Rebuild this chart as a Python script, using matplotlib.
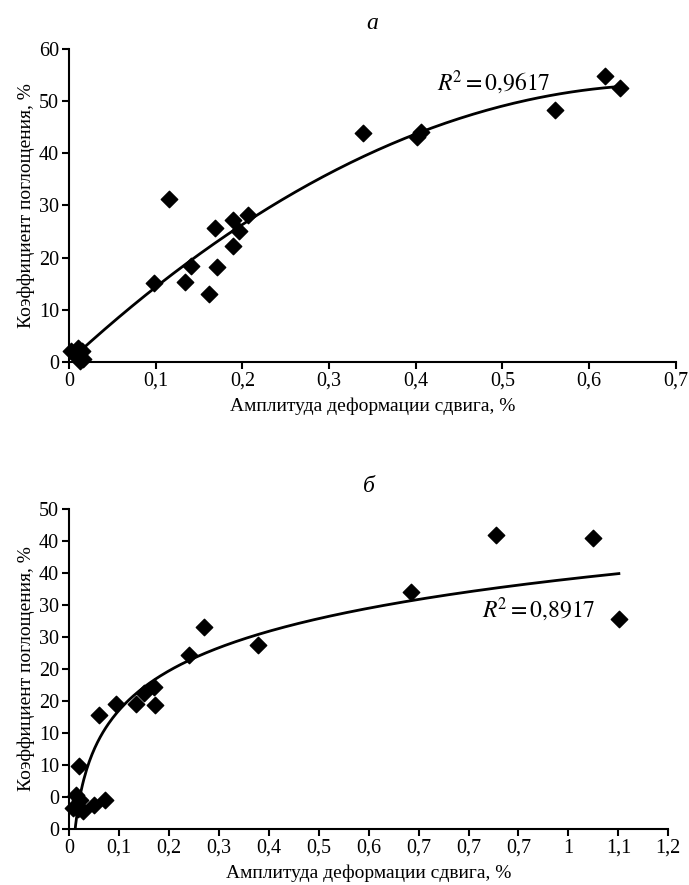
import numpy as np
import matplotlib
matplotlib.use("Agg")
import matplotlib.pyplot as plt

plt.rcParams['font.family'] = ['Liberation Serif', 'DejaVu Serif']

# panel a
xa = [0.0025, 0.010, 0.015, 0.011, 0.016, 0.013, 0.0985, 0.116, 0.134, 0.141,
      0.162, 0.169, 0.171, 0.189, 0.189, 0.196, 0.206, 0.339, 0.402, 0.406,
      0.561, 0.618, 0.636]
ya = [2.1, 2.7, 2.1, 0.8, 0.6, 0.1, 15.2, 31.2, 15.4, 18.4,
      13.1, 25.6, 18.1, 27.1, 22.2, 25.0, 28.2, 43.8, 43.1, 44.0,
      48.2, 54.7, 52.5]
xa_ticks = [0, 0.1, 0.2, 0.3, 0.4, 0.5, 0.6, 0.7]
xa_labels = ['0', '0,1', '0,2', '0,3', '0,4', '0,5', '0,6', '0,7']
ya_ticks = [0, 10, 20, 30, 40, 50, 60]
ya_labels = ['0', '10', '20', '30', '40', '50', '60']

# panel b
xb = [0.855, 1.050, 0.685, 1.101, 0.270, 0.379, 0.240, 0.171, 0.151, 0.135,
      0.172, 0.094, 0.060, 0.021, 0.014, 0.023, 0.072, 0.051, 0.009, 0.018,
      0.029]
yb = [45.9, 45.5, 37.1, 32.8, 31.5, 28.8, 27.2, 22.2, 21.3, 19.6,
      19.4, 19.6, 17.9, 9.8, 5.3, 4.6, 4.5, 3.8, 3.3, 3.1,
      2.9]
xb_ticks = [0, 0.1, 0.2, 0.3, 0.4, 0.5, 0.6, 0.7, 0.8, 0.9, 1.0, 1.1, 1.2]
xb_labels = ['0', '0,1', '0,2', '0,3', '0,4', '0,5', '0,6', '0,7', '0,7', '0,7',
             '1', '1,1', '1,2']
yb_ticks = [0, 5, 10, 15, 20, 25, 30, 35, 40, 45, 50]
yb_labels = ['0', '0', '10', '10', '20', '20', '30', '30', '40', '40', '50']

ylab = 'Коэффициент поглощения, %'
xlab = 'Амплитуда деформации сдвига, %'

fig = plt.figure(figsize=(6.89, 8.85), dpi=100)
ax1 = fig.add_axes([0.100, 0.591, 0.881, 0.354])
ax2 = fig.add_axes([0.100, 0.063, 0.870, 0.362])


def style(ax, xt, xl, yt, yl):
    for s in ('top', 'right'):
        ax.spines[s].set_visible(False)
    for s in ('left', 'bottom'):
        ax.spines[s].set_linewidth(1.5)
    ax.set_xticks(xt)
    ax.set_xticklabels(xl)
    ax.set_yticks(yt)
    ax.set_yticklabels(yl)
    ax.tick_params(width=1.5, length=5, labelsize=14.5, pad=2)
    ax.set_xlim(xt[0], xt[-1])
    ax.set_ylim(yt[0], yt[-1])
    ax.set_ylabel(ylab, fontsize=14, labelpad=3)
    ax.set_xlabel(xlab, fontsize=14, labelpad=5)


# a: polynomial trend
style(ax1, xa_ticks, xa_labels, ya_ticks, ya_labels)
p = np.polyfit(xa, ya, 2)
xf = np.linspace(0.01, max(xa), 200)
ax1.plot(xf, np.polyval(p, xf), color='black', lw=2)
ax1.scatter(xa, ya, marker='D', s=70, color='black', zorder=3, clip_on=False)
ax1.text(0.424, 52.0, r'$\mathit{R}^{\!2} = 0{,}9617$', fontsize=17,
         math_fontfamily='stix')
ax1.set_title('а', fontsize=17, style='italic', pad=14)

# b: logarithmic trend
style(ax2, xb_ticks, xb_labels, yb_ticks, yb_labels)
c = np.polyfit(np.log(xb), yb, 1)
xg = np.linspace(0.008, max(xb), 400)
ax2.plot(xg, c[0] * np.log(xg) + c[1], color='black', lw=2)
ax2.scatter(xb, yb, marker='D', s=70, color='black', zorder=3, clip_on=False)
ax2.text(0.826, 33.0, r'$\mathit{R}^{\!2} = 0{,}8917$', fontsize=17,
         math_fontfamily='stix')
ax2.set_title('б', fontsize=17, style='italic', pad=12)

fig.savefig('out.png', dpi=100)
